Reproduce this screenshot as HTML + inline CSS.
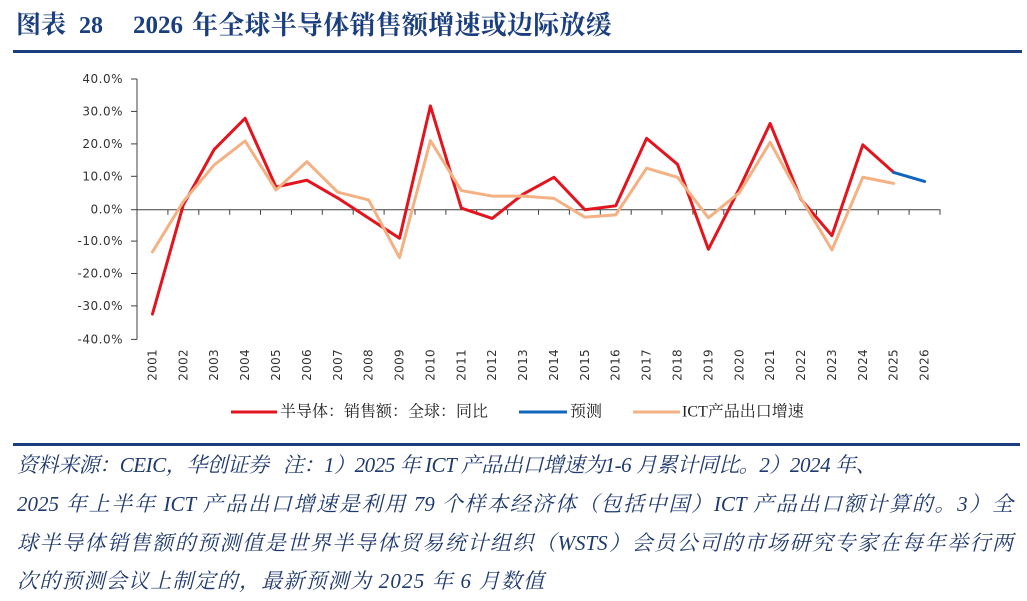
<!DOCTYPE html>
<html><head><meta charset="utf-8"><style>
html,body{margin:0;padding:0;background:#fff;}
body{width:1027px;height:601px;position:relative;overflow:hidden;}
.t{position:absolute;color:#1b3f7e;font-weight:bold;white-space:nowrap;line-height:26px;top:13px;}
.serif{font-family:"Liberation Serif","Noto Serif CJK SC",serif;}
.rule{position:absolute;background:#1b3f7e;}
.fn{position:absolute;left:17px;white-space:nowrap;font-family:"Liberation Serif","Noto Serif CJK SC",serif;font-style:italic;font-size:21px;line-height:24px;color:#1f3a6e;}
.just{width:996px;text-align:justify;text-align-last:justify;}
</style></head><body>
<div class="t serif" style="left:16px;font-size:25px;">图表</div>
<div class="t serif" style="left:79px;font-size:24px;">28</div>
<div class="t serif" style="left:133px;font-size:25px;">2026</div>
<div class="t serif" style="left:192px;font-size:26px;letter-spacing:0.25px;">年全球半导体销售额增速或边际放缓</div>
<div class="rule" style="left:13px;top:50px;width:1009px;height:3px;"></div>

<svg width="1027" height="601" style="position:absolute;left:0;top:0;" xmlns="http://www.w3.org/2000/svg">
<g stroke="#404040" stroke-width="1" fill="none">
<line x1="137" y1="79" x2="137" y2="339.4"/>
<line x1="137" y1="209.7" x2="940.5" y2="209.7"/>
<line x1="131" y1="79" x2="137" y2="79"/>
<line x1="131" y1="111.4" x2="137" y2="111.4"/>
<line x1="131" y1="143.9" x2="137" y2="143.9"/>
<line x1="131" y1="176.3" x2="137" y2="176.3"/>
<line x1="131" y1="209.7" x2="137" y2="209.7"/>
<line x1="131" y1="241.1" x2="137" y2="241.1"/>
<line x1="131" y1="273.5" x2="137" y2="273.5"/>
<line x1="131" y1="305.9" x2="137" y2="305.9"/>
<line x1="131" y1="339.4" x2="137" y2="339.4"/>
<path d="M167.9 209.7v5M198.8 209.7v5M229.7 209.7v5M260.5 209.7v5M291.4 209.7v5M322.3 209.7v5M353.2 209.7v5M384.1 209.7v5M415 209.7v5M445.9 209.7v5M476.7 209.7v5M507.6 209.7v5M538.5 209.7v5M569.4 209.7v5M600.3 209.7v5M631.2 209.7v5M662 209.7v5M692.9 209.7v5M723.8 209.7v5M754.7 209.7v5M785.6 209.7v5M816.5 209.7v5M847.4 209.7v5M878.2 209.7v5M909.1 209.7v5M940 209.7v5"/>
</g>
<g font-family="DejaVu Sans, sans-serif" font-size="12" fill="#333" text-anchor="end" dominant-baseline="central" letter-spacing="0.5">
<text x="123" y="79">40.0%</text>
<text x="123" y="111.4">30.0%</text>
<text x="123" y="143.9">20.0%</text>
<text x="123" y="176.3">10.0%</text>
<text x="123" y="209.7">0.0%</text>
<text x="123" y="241.1">-10.0%</text>
<text x="123" y="273.5">-20.0%</text>
<text x="123" y="305.9">-30.0%</text>
<text x="123" y="339.4">-40.0%</text>
</g>
<g font-family="DejaVu Sans, sans-serif" font-size="12" fill="#333" text-anchor="end" dominant-baseline="central" letter-spacing="0.3">
<text transform="translate(152.4 349) rotate(-90)">2001</text>
<text transform="translate(183.3 349) rotate(-90)">2002</text>
<text transform="translate(214.2 349) rotate(-90)">2003</text>
<text transform="translate(245.1 349) rotate(-90)">2004</text>
<text transform="translate(276 349) rotate(-90)">2005</text>
<text transform="translate(306.9 349) rotate(-90)">2006</text>
<text transform="translate(337.8 349) rotate(-90)">2007</text>
<text transform="translate(368.6 349) rotate(-90)">2008</text>
<text transform="translate(399.5 349) rotate(-90)">2009</text>
<text transform="translate(430.4 349) rotate(-90)">2010</text>
<text transform="translate(461.3 349) rotate(-90)">2011</text>
<text transform="translate(492.2 349) rotate(-90)">2012</text>
<text transform="translate(523.1 349) rotate(-90)">2013</text>
<text transform="translate(554 349) rotate(-90)">2014</text>
<text transform="translate(584.8 349) rotate(-90)">2015</text>
<text transform="translate(615.7 349) rotate(-90)">2016</text>
<text transform="translate(646.6 349) rotate(-90)">2017</text>
<text transform="translate(677.5 349) rotate(-90)">2018</text>
<text transform="translate(708.4 349) rotate(-90)">2019</text>
<text transform="translate(739.3 349) rotate(-90)">2020</text>
<text transform="translate(770.1 349) rotate(-90)">2021</text>
<text transform="translate(801 349) rotate(-90)">2022</text>
<text transform="translate(831.9 349) rotate(-90)">2023</text>
<text transform="translate(862.8 349) rotate(-90)">2024</text>
<text transform="translate(893.7 349) rotate(-90)">2025</text>
<text transform="translate(924.6 349) rotate(-90)">2026</text>
</g>
<g transform="translate(137 209.7) scale(30.885 -3.2425)" fill="none" stroke-linejoin="round" stroke-linecap="round">
<polyline vector-effect="non-scaling-stroke" stroke="#e3141e" stroke-width="3" points="0.5,-32.2 1.5,1.5 2.5,18.6 3.5,28.2 4.5,7.0 5.5,9.1 6.5,3.6 7.5,-2.6 8.5,-8.8 9.5,32.0 10.5,0.5 11.5,-2.7 12.5,4.8 13.5,10.0 14.5,0.0 15.5,1.2 16.5,22.0 17.5,14.0 18.5,-12.2 19.5,6.5 20.5,26.6 21.5,3.2 22.5,-8.0 23.5,20.0 24.5,11.5"/>
<polyline vector-effect="non-scaling-stroke" stroke="#1265bd" stroke-width="3" points="24.5,11.5 25.5,8.7"/>
<polyline vector-effect="non-scaling-stroke" stroke="#f4b183" stroke-width="3" points="0.5,-13.0 1.5,2.5 2.5,13.8 3.5,21.2 4.5,6.1 5.5,14.8 6.5,5.4 7.5,3.0 8.5,-14.8 9.5,21.3 10.5,5.9 11.5,4.2 12.5,4.2 13.5,3.5 14.5,-2.3 15.5,-1.6 16.5,12.8 17.5,10.0 18.5,-2.5 19.5,5.2 20.5,20.8 21.5,3.5 22.5,-12.4 23.5,10.0 24.5,8.1"/>
</g>
<g stroke-width="3">
<line x1="231" y1="412" x2="277" y2="412" stroke="#e3141e"/>
<line x1="519" y1="412" x2="567" y2="412" stroke="#1265bd"/>
<line x1="633" y1="412" x2="680" y2="412" stroke="#f4b183"/>
</g>
<g font-family="Liberation Serif, Noto Serif CJK SC, serif" font-size="16" fill="#222" dominant-baseline="central">
<text x="280" y="412">半导体：销售额：全球：同比</text>
<text x="570" y="412">预测</text>
<text x="682" y="412">ICT产品出口增速</text>
</g>
</svg>

<div class="rule" style="left:13px;top:443px;width:1007px;height:3px;"></div>
<div class="fn" style="top:453px;letter-spacing:-0.45px;">资料来源：CEIC，华创证券&nbsp;&nbsp;&nbsp;注：1）2025 年 ICT 产品出口增速为1-6 月累计同比。2）2024 年、</div>
<div class="fn just" style="top:492px;">2025 年上半年 ICT 产品出口增速是利用 79 个样本经济体（包括中国）ICT 产品出口额计算的。3）全</div>
<div class="fn just" style="top:531px;">球半导体销售额的预测值是世界半导体贸易统计组织（WSTS）会员公司的市场研究专家在每年举行两</div>
<div class="fn" style="top:569px;letter-spacing:1.2px;">次的预测会议上制定的，最新预测为 2025 年 6 月数值</div>
</body></html>
